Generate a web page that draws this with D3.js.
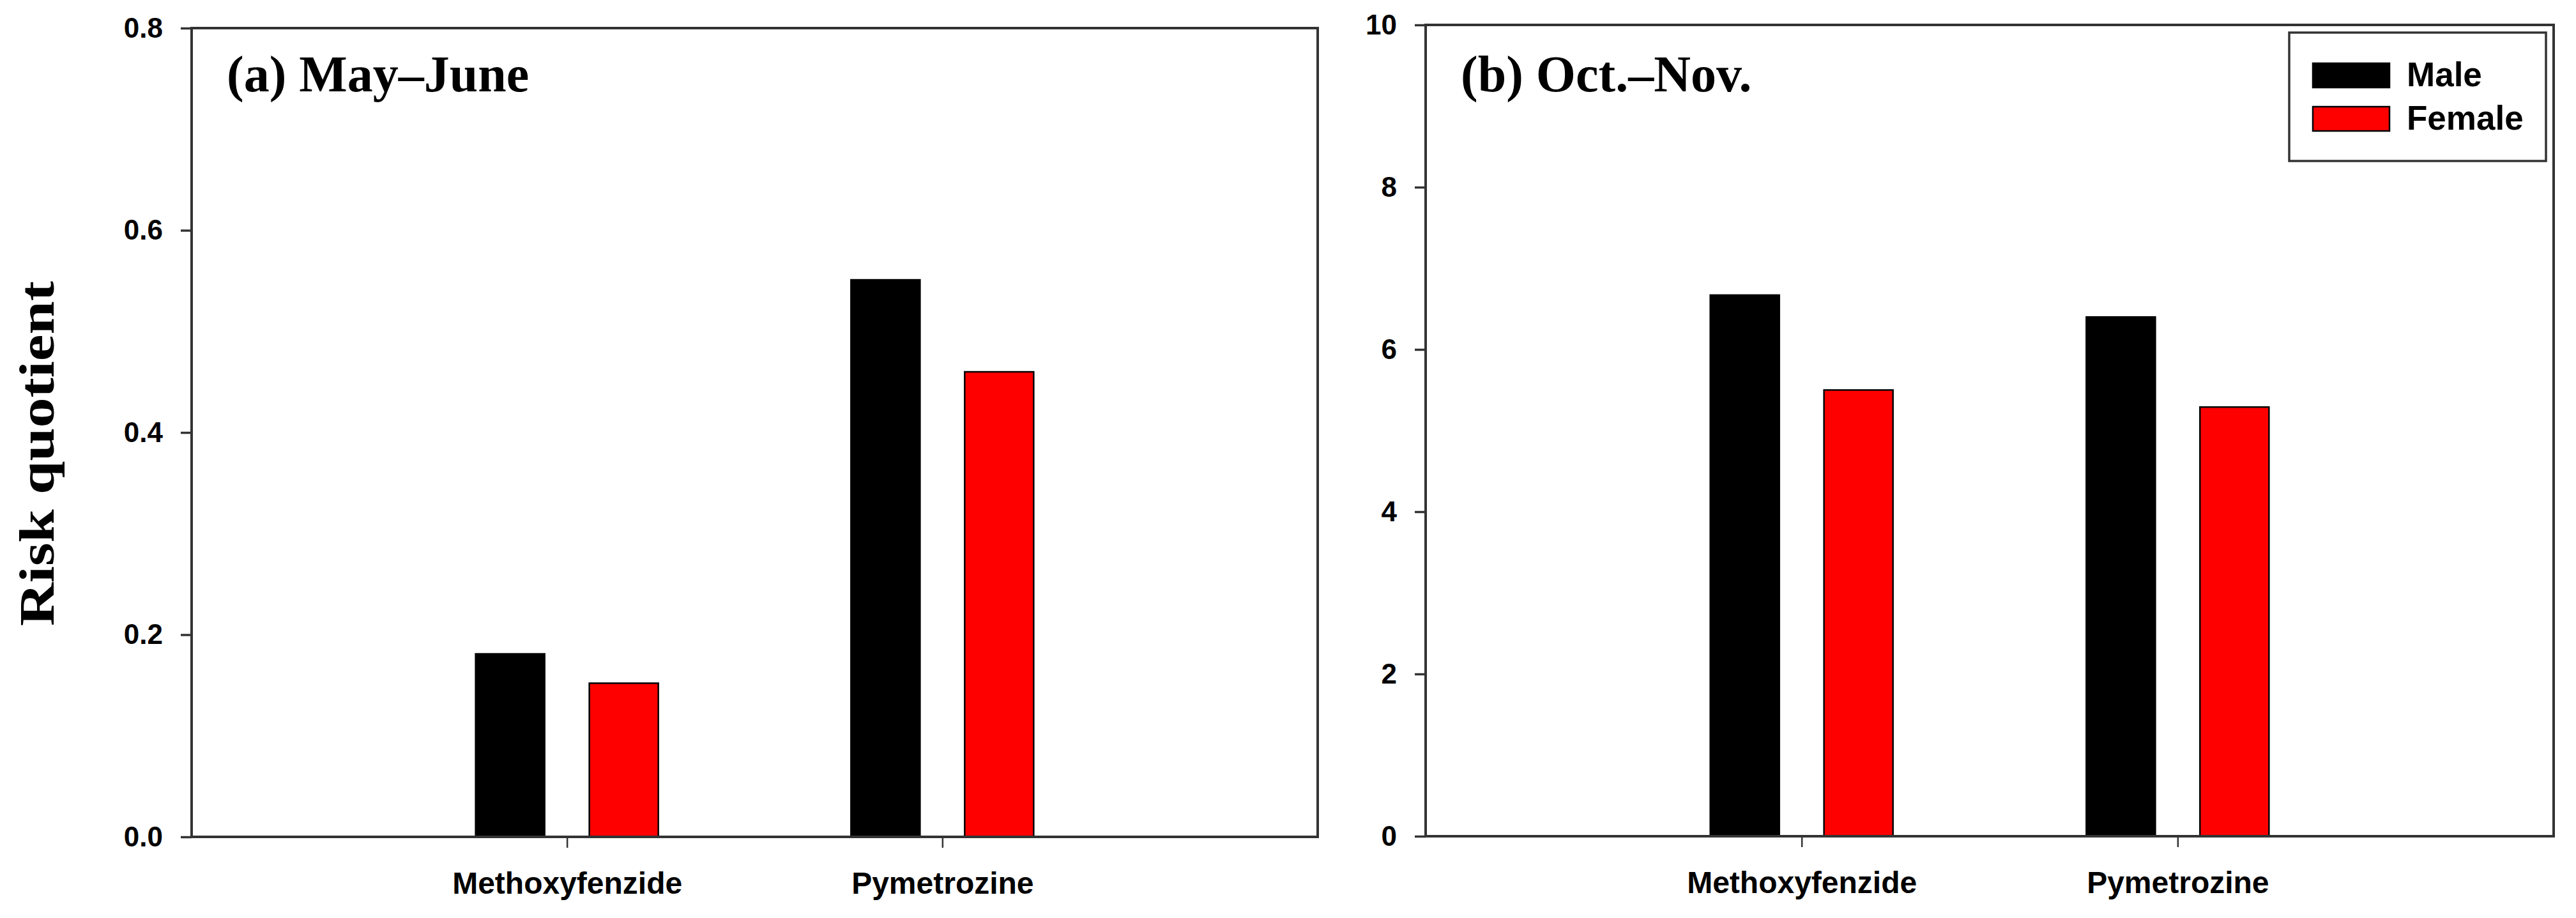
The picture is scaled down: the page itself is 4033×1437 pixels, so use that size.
<!DOCTYPE html>
<html>
<head>
<meta charset="utf-8">
<script src="https://cdn.jsdelivr.net/npm/d3@7"></script>
<style>
  html, body { margin: 0; padding: 0; background: #fff; }
  svg { display: block; }
</style>
</head>
<body>
<script>
// ---- data ----
const categories = ["Methoxyfenzide", "Pymetrozine"];
const sexes = ["Male", "Female"];
const colors = ["#000000", "#ff0000"];
const mayJuneMale = [0.181, 0.551];
const mayJuneFemale = [0.152, 0.460];
const octNovMale = [6.67, 6.40];
const octNovFemale = [5.50, 5.29];
const ticksA = [0, 0.2, 0.4, 0.6, 0.8];
const ticksB = [0, 2, 4, 6, 8, 10];
const titleA = "(a) May\u2013June";
const titleB = "(b) Oct.\u2013Nov.";
const yLabel = "Risk quotient";

const W = 4033, H = 1437;
const svg = d3.select("body").append("svg").attr("width", W).attr("height", H);
const sans = "'Liberation Sans', Arial, sans-serif";
const serif = "'Liberation Serif', 'Times New Roman', serif";
const axisColor = "#333";

function panel(cfg) {
  const { x0, x1, yTop, yBot, domainMax, ticks, fmt, male, female, title } = cfg;
  const y = d3.scaleLinear().domain([0, domainMax]).range([yBot, yTop]);
  const x = d3.scalePoint().domain(categories).range([x0, x1]).padding(1);
  const xs = d3.scaleBand().domain(sexes).range([-143, 143]).paddingInner(0.393);
  const g = svg.append("g");

  const rows = categories.map((c, i) => ({ cat: c, vals: [male[i], female[i]] }));
  const grp = g.selectAll("g.cat").data(rows).join("g")
    .attr("transform", d => `translate(${x(d.cat)},0)`);
  grp.selectAll("rect").data(d => d.vals.map((v, j) => ({ v, s: sexes[j], c: colors[j] })))
    .join("rect")
    .attr("x", d => xs(d.s))
    .attr("width", xs.bandwidth())
    .attr("y", d => y(d.v))
    .attr("height", d => y(0) - y(d.v))
    .attr("fill", d => d.c)
    .attr("stroke", "#000")
    .attr("stroke-width", 2.5);

  // frame
  g.append("rect").attr("x", x0).attr("y", yTop).attr("width", x1 - x0).attr("height", yBot - yTop)
    .attr("fill", "none").attr("stroke", axisColor).attr("stroke-width", 4);

  // y axis
  const ya = d3.axisLeft(y).tickValues(ticks).tickFormat(d3.format(fmt)).tickSize(17).tickPadding(28);
  const yg = g.append("g").attr("transform", `translate(${x0},0)`).call(ya);
  yg.select(".domain").remove();
  yg.selectAll(".tick line").attr("stroke", axisColor).attr("stroke-width", 3.5);
  yg.selectAll(".tick text").attr("font-family", sans).attr("font-weight", "bold")
    .attr("font-size", 44).attr("fill", "#000");

  // x axis
  const xa = d3.axisBottom(x).tickSize(17).tickPadding(38);
  const xg = g.append("g").attr("transform", `translate(0,${yBot})`).call(xa);
  xg.select(".domain").remove();
  xg.selectAll(".tick line").attr("stroke", axisColor).attr("stroke-width", 2.5);
  xg.selectAll(".tick text").attr("font-family", sans).attr("font-weight", "bold")
    .attr("font-size", 48).attr("fill", "#000");

  // title
  g.append("text").attr("x", x0 + 55).attr("y", 143).text(title)
    .attr("font-family", serif).attr("font-weight", "bold").attr("font-size", 80).attr("fill", "#000");
  return { g, x, y };
}

panel({ x0: 300, x1: 2063, yTop: 44, yBot: 1310, domainMax: 0.8, ticks: ticksA, fmt: ".1f",
        male: mayJuneMale, female: mayJuneFemale, title: titleA });
const pb = panel({ x0: 2232, x1: 3998, yTop: 39, yBot: 1309, domainMax: 10, ticks: ticksB, fmt: "d",
        male: octNovMale, female: octNovFemale, title: titleB });

// y label
svg.append("text")
  .attr("transform", "translate(84,710) rotate(-90)")
  .attr("text-anchor", "middle")
  .attr("font-family", serif).attr("font-weight", "bold").attr("font-size", 78)
  .attr("textLength", 540).attr("lengthAdjust", "spacingAndGlyphs")
  .attr("fill", "#000")
  .text(yLabel);

// legend
const lg = svg.append("g");
lg.append("rect").attr("x", 3584).attr("y", 51).attr("width", 402).attr("height", 201)
  .attr("fill", "#fff").attr("stroke", axisColor).attr("stroke-width", 3.5);
sexes.forEach((s, i) => {
  const yy = 99 + i * 68;
  lg.append("rect").attr("x", 3621).attr("y", yy).attr("width", 120).attr("height", 38)
    .attr("fill", colors[i]).attr("stroke", "#000").attr("stroke-width", 2.5);
  lg.append("text").attr("x", 3768).attr("y", yy + 36).text(s)
    .attr("font-family", sans).attr("font-weight", "bold").attr("font-size", 53).attr("fill", "#000");
});
</script>
</body>
</html>
